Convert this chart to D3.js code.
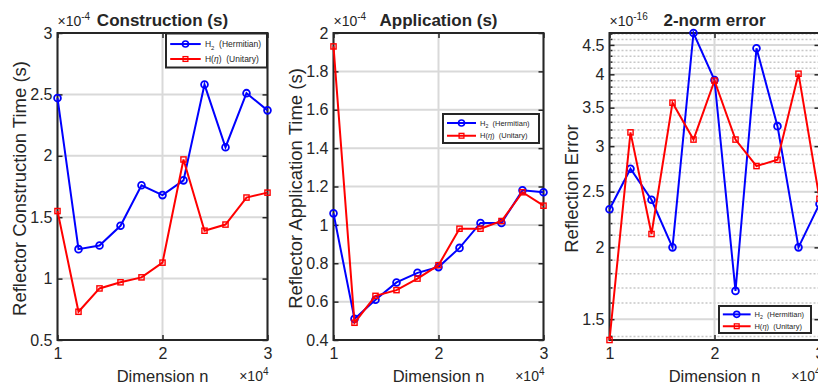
<!DOCTYPE html>
<html>
<head>
<meta charset="utf-8">
<script src="https://cdn.jsdelivr.net/npm/d3@7"></script>
<style>
  body { margin: 0; background: #fff; }
  text { font-family: "Liberation Sans", Arial, sans-serif; fill: #262626; }
</style>
</head>
<body>
<svg id="chart" width="818" height="384"></svg>
<script>
// x values in units of 10^4
const dimN = [1.0, 1.2, 1.4, 1.6, 1.8, 2.0, 2.2, 2.4, 2.6, 2.8, 3.0];
const xTicks = [1, 2, 3];

// construction time, x10^-4 s
const constructH2 = [2.47, 1.24, 1.27, 1.43, 1.76, 1.68, 1.80, 2.58, 2.07, 2.51, 2.37];
const constructHeta = [1.55, 0.73, 0.92, 0.97, 1.01, 1.13, 1.97, 1.39, 1.44, 1.66, 1.70];
const constructTicks = [0.5, 1, 1.5, 2, 2.5, 3];

// application time, x10^-4 s
const applyH2 = [1.06, 0.51, 0.61, 0.70, 0.75, 0.78, 0.88, 1.01, 1.01, 1.18, 1.17];
const applyHeta = [1.93, 0.49, 0.63, 0.66, 0.72, 0.79, 0.98, 0.98, 1.02, 1.17, 1.10];
const applyTicks = [0.4, 0.6, 0.8, 1, 1.2, 1.4, 1.6, 1.8, 2];

// 2-norm error, x10^-16
const errH2 = [2.33, 2.74, 2.42, 2.00, 4.72, 3.91, 1.68, 4.44, 3.25, 2.00, 2.38];
const errHeta = [1.38, 3.17, 2.11, 3.57, 3.08, 3.90, 3.08, 2.77, 2.84, 4.01, 2.43];
const errTicks = [1.5, 2, 2.5, 3, 3.5, 4, 4.5];

const seriesNames = ["H2", "Heta"];
const colors = { H2: "#0000ff", Heta: "#ff0000" };

const svg = d3.select("#chart");
svg.append("rect").attr("width", 818).attr("height", 384).attr("fill", "#fff");

const yTop = 33, yBot = 340;
const axisColor = "#262626";
const gridColor = "#d9d9d9";

const panels = [
  { left: 57.5, h2: constructH2, heta: constructHeta, ticks: constructTicks, domain: [0.5, 3],
    exp: "-4", title: "Construction (s)", ylabel: "Reflector Construction Time (s)",
    legend: { x: 166, y: 33.5, w: 101, h: 34, fs: 8.5 } },
  { left: 333.5, h2: applyH2, heta: applyHeta, ticks: applyTicks, domain: [0.4, 2],
    exp: "-4", title: "Application (s)", ylabel: "Reflector Application Time (s)",
    legend: { x: 443, y: 114, w: 96, h: 29, fs: 7.5 } },
  { left: 609.5, h2: errH2, heta: errHeta, ticks: errTicks, log: true,
    exp: "-16", title: "2-norm error", ylabel: "Reflection Error",
    legend: { x: 719, y: 306, w: 92, h: 27, fs: 7.5 } }
];

panels.forEach(p => {
  const right = p.left + 210;
  const g = svg.append("g");
  const x = d3.scaleLinear().domain([1, 3]).range([p.left, right]);
  let y;
  if (p.log) {
    const all = p.h2.concat(p.heta);
    y = d3.scaleLog().domain(d3.extent(all)).range([yBot, yTop]);
  } else {
    y = d3.scaleLinear().domain(p.domain).range([yBot, yTop]);
  }

  // minor grid (log panel)
  if (p.log) {
    const [lo, hi] = y.domain();
    const minors = d3.range(Math.ceil(lo * 10), Math.floor(hi * 10) + 1)
      .map(v => v / 10)
      .filter(v => !p.ticks.some(t => Math.abs(t - v) < 1e-6));
    g.selectAll(".minor").data(minors).enter().append("line")
      .attr("x1", p.left).attr("x2", right)
      .attr("y1", d => y(d)).attr("y2", d => y(d))
      .attr("stroke", "#c8c8c8").attr("stroke-width", 1.5)
      .attr("stroke-dasharray", "2,2");
    g.selectAll(".minortick").data(minors).enter().append("line")
      .attr("x1", p.left).attr("x2", p.left + 3)
      .attr("y1", d => y(d)).attr("y2", d => y(d))
      .attr("stroke", axisColor).attr("stroke-width", 1.5);
  }

  // major grid
  g.selectAll(".gy").data(p.ticks).enter().append("line")
    .attr("x1", p.left).attr("x2", right)
    .attr("y1", d => y(d)).attr("y2", d => y(d))
    .attr("stroke", gridColor).attr("stroke-width", 2);
  g.selectAll(".gx").data(xTicks).enter().append("line")
    .attr("x1", d => x(d)).attr("x2", d => x(d))
    .attr("y1", yTop).attr("y2", yBot)
    .attr("stroke", gridColor).attr("stroke-width", 2);

  // axes with inward ticks
  const fmt = d3.format("~g");
  const yAx = g.append("g").attr("transform", `translate(${p.left},0)`)
    .call(d3.axisLeft(y).tickValues(p.ticks).tickFormat(fmt).tickSize(-5).tickPadding(5));
  const yAxR = g.append("g").attr("transform", `translate(${right},0)`)
    .call(d3.axisRight(y).tickValues(p.ticks).tickFormat("").tickSize(-5));
  const xAx = g.append("g").attr("transform", `translate(0,${yBot})`)
    .call(d3.axisBottom(x).tickValues(xTicks).tickFormat(fmt).tickSize(-5).tickPadding(8));
  const xAxT = g.append("g").attr("transform", `translate(0,${yTop})`)
    .call(d3.axisTop(x).tickValues(xTicks).tickFormat("").tickSize(-5));
  [yAx, yAxR, xAx, xAxT].forEach(a => {
    a.select(".domain").remove();
    a.selectAll(".tick line").attr("stroke", axisColor).attr("stroke-width", 1.5);
    a.selectAll(".tick text").attr("font-size", 16).attr("fill", axisColor)
      .style("font-family", '"Liberation Sans", Arial, sans-serif');
  });

  // box
  g.append("rect").attr("x", p.left).attr("y", yTop)
    .attr("width", right - p.left).attr("height", yBot - yTop)
    .attr("fill", "none").attr("stroke", axisColor).attr("stroke-width", 2);

  // data
  const line = d3.line().x((d, i) => x(dimN[i])).y(d => y(d));
  [["H2", p.h2], ["Heta", p.heta]].forEach(([name, vals]) => {
    g.append("path").datum(vals).attr("d", line)
      .attr("fill", "none").attr("stroke", colors[name]).attr("stroke-width", 2);
    if (name === "H2") {
      g.selectAll(".c" + name).data(vals).enter().append("circle")
        .attr("cx", (d, i) => x(dimN[i])).attr("cy", d => y(d)).attr("r", 3.4)
        .attr("fill", "none").attr("stroke", colors[name]).attr("stroke-width", 1.8);
    } else {
      g.selectAll(".s" + name).data(vals).enter().append("rect")
        .attr("x", (d, i) => x(dimN[i]) - 2.6).attr("y", d => y(d) - 2.6)
        .attr("width", 5.2).attr("height", 5.2)
        .attr("fill", "none").attr("stroke", colors[name]).attr("stroke-width", 1.4);
    }
  });

  // exponent and title
  const e = g.append("text").attr("x", p.left).attr("y", 26).attr("font-size", 14);
  e.append("tspan").text("\u00d710");
  e.append("tspan").attr("dy", -6).attr("font-size", 10).text(p.exp);
  g.append("text").attr("x", (p.left + right) / 2).attr("y", 26)
    .attr("text-anchor", "middle").attr("font-size", 17).attr("font-weight", "bold")
    .attr("fill", "#000").text(p.title);

  // x exponent and labels
  const xe = g.append("text").attr("x", right + 1).attr("y", 381)
    .attr("text-anchor", "end").attr("font-size", 14);
  xe.append("tspan").text("\u00d710");
  xe.append("tspan").attr("dy", -6).attr("font-size", 10).text("4");
  g.append("text").attr("x", (p.left + right) / 2).attr("y", 382)
    .attr("text-anchor", "middle").attr("font-size", 16.5).text("Dimension n");
  g.append("text")
    .attr("transform", `translate(${p.left - 31.5},${(yTop + yBot) / 2 + 2}) rotate(-90)`)
    .attr("text-anchor", "middle").attr("font-size", 18.5).text(p.ylabel);

  // legend
  const L = p.legend;
  const lg = g.append("g");
  lg.append("rect").attr("x", L.x).attr("y", L.y).attr("width", L.w).attr("height", L.h)
    .attr("fill", "#fff").attr("stroke", axisColor).attr("stroke-width", 2);
  const s = L.w / 96;
  seriesNames.forEach((name, k) => {
    const ry = L.y + L.h * (k === 0 ? 0.31 : 0.75);
    const x0 = L.x + 4 * s, x1 = L.x + 33 * s, xm = (x0 + x1) / 2;
    lg.append("line").attr("x1", x0).attr("x2", x1).attr("y1", ry).attr("y2", ry)
      .attr("stroke", colors[name]).attr("stroke-width", 2);
    if (name === "H2") {
      lg.append("circle").attr("cx", xm).attr("cy", ry).attr("r", 3)
        .attr("fill", "none").attr("stroke", colors[name]).attr("stroke-width", 1.6);
    } else {
      lg.append("rect").attr("x", xm - 2.4).attr("y", ry - 2.4).attr("width", 4.8).attr("height", 4.8)
        .attr("fill", "none").attr("stroke", colors[name]).attr("stroke-width", 1.3);
    }
    const t = lg.append("text").attr("x", L.x + 37 * s).attr("y", ry + L.fs * 0.36)
      .attr("font-size", L.fs).attr("fill", "#000").style("white-space", "pre");
    if (name === "H2") {
      t.append("tspan").text("H");
      t.append("tspan").attr("dy", L.fs * 0.3).attr("font-size", L.fs * 0.7).text("2");
      t.append("tspan").attr("dy", -L.fs * 0.3).text("  (Hermitian)");
    } else {
      t.append("tspan").text("H(");
      t.append("tspan").attr("font-style", "italic").text("\u03b7");
      t.append("tspan").text(")  (Unitary)");
    }
  });
});
</script>
</body>
</html>
